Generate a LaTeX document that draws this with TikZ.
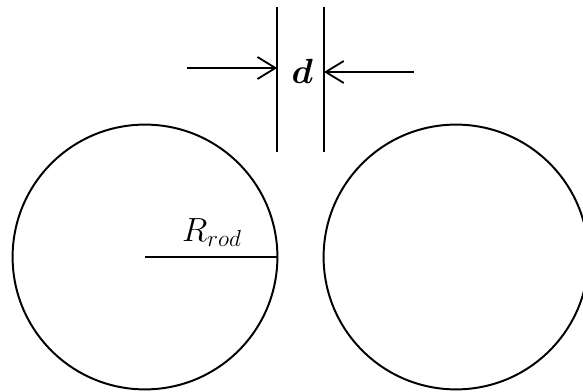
\documentclass[tikz,border=0pt]{standalone}
\usepackage{amsmath}
\usepackage{bm}
\usepackage{graphicx}
\usetikzlibrary{arrows.meta}

\begin{document}
\begin{tikzpicture}[line width=1.4pt,
    gapline/.style={line width=1.3pt},
    barb/.style={-{Straight Barb[length=4.5mm, width=5.5mm, line width=1.3pt]}, line width=1.3pt},
    biglabel/.style={font=\huge, inner sep=0pt}]
  \useasboundingbox (0,0) rectangle (14.575,9.775);
  \coordinate (L) at (3.625,3.35);
  \coordinate (R) at (11.4,3.35);
  \coordinate (T1) at (6.93,9.6);
  \coordinate (B1) at (6.93,5.975);
  \coordinate (T2) at (8.1,9.6);
  \coordinate (B2) at (8.1,5.975);
  \coordinate (E) at (6.935,3.35);
  \coordinate (LA) at (4.675,8.075);
  \coordinate (LB) at (6.93,8.075);
  \coordinate (RA) at (10.35,7.975);
  \coordinate (RB) at (8.1,7.975);
  \draw (L) circle (3.31);
  \draw (R) circle (3.31);
  \draw (L) -- (E);
  \draw[gapline] (T1) -- (B1);
  \draw[gapline] (T2) -- (B2);
  \draw[barb] (LA) -- (LB);
  \draw[barb] (RA) -- (RB);
  \node[biglabel] (d) at (7.56,7.98) {\scalebox{1.2}{$\bm{d}$}};
  \node[biglabel] (rod) at (5.3,3.95) {\scalebox{1.15}{$R_{rod}$}};
\end{tikzpicture}
\end{document}
